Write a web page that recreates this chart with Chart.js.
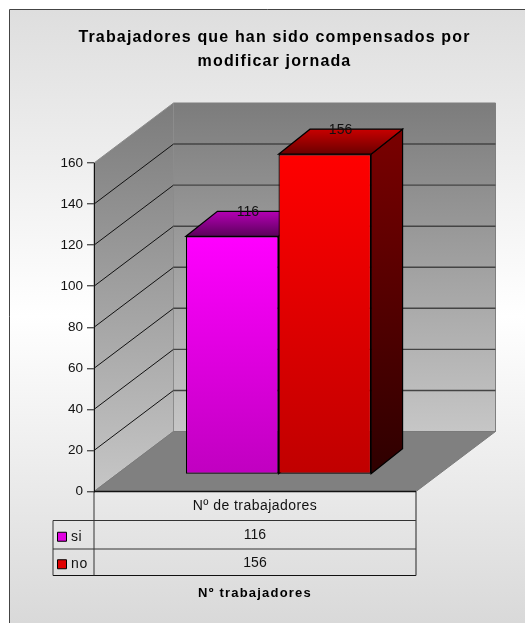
<!DOCTYPE html>
<html>
<head>
<meta charset="utf-8">
<style>html,body{margin:0;padding:0;background:#fff}canvas{display:block}</style>
<script src="https://cdn.jsdelivr.net/npm/chart.js@4"></script>
</head>
<body>
<div style="width:525px;height:623px"><canvas id="c" width="525" height="623"></canvas></div>
<script>
const titleLines = ['Trabajadores que han sido compensados por', 'modificar jornada'];
const axisTitle = 'Nº trabajadores';
const categories = ['Nº de trabajadores'];
const seriesNames = ['si', 'no'];
const siValues = [116];
const noValues = [156];
const yMax = 160;
const yStep = 20;

const FONT = '"Liberation Sans", Arial, sans-serif';
const seriesStyle = [
  { top: '#ff00ff', bottom: '#c000c0', key: '#e000e0', capA: '#b400b4', capB: '#5c005c', sideA: '#7a007a', sideB: '#2e002e' },
  { top: '#ff0000', bottom: '#c00000', key: '#e00000', capA: '#c80000', capB: '#6a0000', sideA: '#7a0000', sideB: '#2e0000' }
];
const WALL = { dx: 79.5, dy: -60 };       // room depth
const BAR_SHIFT = { dx: 23.5, dy: -17 };  // bars stand inside the room
const BAR_DEPTH = { dx: 31.5, dy: -25 };  // depth of each column
const PANEL = { x: 9.5, y: 9.5 };
const TABLE = { left: 53, headerBottom: 520.5, row1: 549, row2: 575.5 };

function vGrad(ctx, y0, y1, a, b) {
  const g = ctx.createLinearGradient(0, y0, 0, y1);
  g.addColorStop(0, a); g.addColorStop(1, b);
  return g;
}
function poly(ctx, pts, fill, stroke, lw) {
  ctx.beginPath();
  pts.forEach((p, i) => i ? ctx.lineTo(p[0], p[1]) : ctx.moveTo(p[0], p[1]));
  ctx.closePath();
  if (fill) { ctx.fillStyle = fill; ctx.fill(); }
  if (stroke) { ctx.strokeStyle = stroke; ctx.lineWidth = lw || 1; ctx.stroke(); }
}
function line(ctx, x0, y0, x1, y1, color, lw) {
  ctx.beginPath(); ctx.moveTo(x0, y0); ctx.lineTo(x1, y1);
  ctx.strokeStyle = color; ctx.lineWidth = lw || 1; ctx.stroke();
}

const room3d = {
  id: 'room3d',
  afterLayout(chart) {
    chart.titleBlock.left = 24;
    chart.titleBlock.right = 525;
    if (!chart.$spaced) {
      chart.$spaced = true;
      const ctx = chart.ctx;
      const t = chart.titleBlock, od = t.draw;
      t.draw = function () { ctx.save(); ctx.letterSpacing = '1.15px'; od.apply(this, arguments); ctx.restore(); };
      const xs = chart.scales.x, ot = xs.drawTitle, ol = xs.drawLabels;
      xs.drawTitle = function () { ctx.save(); ctx.letterSpacing = '1.2px'; ot.apply(this, arguments); ctx.restore(); };
      xs.drawLabels = function () { ctx.save(); ctx.letterSpacing = '0.45px'; ol.apply(this, arguments); ctx.restore(); };
    }
  },
  beforeDraw(chart) {
    const { ctx, chartArea: a, width, height } = chart;
    const ys = chart.scales.y;
    ctx.save();
    // panel
    const bg = ctx.createLinearGradient(0, PANEL.y, 0, height);
    bg.addColorStop(0, '#dedede'); bg.addColorStop(0.5, '#ffffff'); bg.addColorStop(1, '#d9d9d9');
    ctx.fillStyle = bg;
    ctx.fillRect(PANEL.x, PANEL.y, width - PANEL.x, height - PANEL.y);
    line(ctx, PANEL.x, height, PANEL.x, PANEL.y, '#444');
    line(ctx, PANEL.x, PANEL.y, width, PANEL.y, '#444');

    const { dx, dy } = WALL;
    const top = a.top, bot = a.bottom, L = a.left, R = a.right;
    // back wall
    poly(ctx, [[L + dx, top + dy], [R + dx, top + dy], [R + dx, bot + dy], [L + dx, bot + dy]],
      vGrad(ctx, top + dy, bot + dy, '#7c7c7c', '#c6c6c6'), '#7f7f7f', 1);
    // side wall
    poly(ctx, [[L, top], [L + dx, top + dy], [L + dx, bot + dy], [L, bot]],
      vGrad(ctx, top + dy, bot, '#7c7c7c', '#c6c6c6'), '#8c8c8c', 1);
    // grid lines from the value axis
    ys.ticks.forEach(t => {
      if (t.value === 0) return;
      const y = ys.getPixelForValue(t.value);
      if (t.value !== yMax) {
        line(ctx, L, y, L + dx, y + dy, '#111', 1);
        line(ctx, L + dx, y + dy, R + dx, y + dy, '#444', 1.4);
      }
    });
    // floor
    poly(ctx, [[L, bot], [L + dx, bot + dy], [R + dx, bot + dy], [R, bot]], '#808080', '#7a7a7a', 1);
    ctx.restore();
  },
  beforeDatasetsDraw(chart) {
    const { ctx } = chart;
    ctx.save();
    ctx.translate(BAR_SHIFT.dx, BAR_SHIFT.dy);
    const { dx, dy } = BAR_DEPTH;
    chart.data.datasets.forEach((ds, i) => {
      chart.getDatasetMeta(i).data.forEach(b => {
        const l = b.x - b.width / 2, r = b.x + b.width / 2, s = seriesStyle[i];
        poly(ctx, [[r, b.y], [r + dx, b.y + dy], [r + dx, b.base + dy], [r, b.base]],
          vGrad(ctx, b.y + dy, b.base, s.sideA, s.sideB), '#000', 1.2);
        poly(ctx, [[l, b.y], [l + dx, b.y + dy], [r + dx, b.y + dy], [r, b.y]],
          vGrad(ctx, b.y + dy, b.y, s.capA, s.capB), '#000', 1.2);
      });
    });
  },
  afterDatasetsDraw(chart) {
    const { ctx, chartArea: a } = chart;
    // value labels, on the back edge of each column top
    chart.data.datasets.forEach((ds, i) => {
      chart.getDatasetMeta(i).data.forEach((b, j) => {
        ctx.font = '14px ' + FONT;
        ctx.fillStyle = '#111';
        ctx.textAlign = 'center'; ctx.textBaseline = 'middle';
        ctx.fillText(String(ds.data[j]), b.x + BAR_DEPTH.dx / 2, b.y + BAR_DEPTH.dy + 0.5);
      });
    });
    ctx.restore();
    // data table
    ctx.save();
    const T = TABLE, L = a.left, R = a.right, bot = a.bottom;
    const rows = [[T.headerBottom, T.row1], [T.row1, T.row2]];
    line(ctx, L, T.headerBottom, R, T.headerBottom, '#333', 1);
    line(ctx, T.left, T.headerBottom, L, T.headerBottom, '#333', 1);
    line(ctx, T.left, T.row1, R, T.row1, '#333', 1);
    line(ctx, T.left, T.row2, R, T.row2, '#111', 1.2);
    line(ctx, T.left, T.headerBottom, T.left, T.row2, '#333', 1);
    line(ctx, L, bot, L, T.row2, '#333', 1);
    line(ctx, R, bot, R, T.row2, '#444', 1.2);
    line(ctx, L, bot, R, bot, '#111', 1.6);
    ctx.font = '14px ' + FONT;
    ctx.textBaseline = 'middle';
    rows.forEach((r, i) => {
      const cy = (r[0] + r[1]) / 2;
      const ky = cy + 2;
      poly(ctx, [[T.left + 4.5, ky - 4.5], [T.left + 13.5, ky - 4.5], [T.left + 13.5, ky + 4.5], [T.left + 4.5, ky + 4.5]],
        seriesStyle[i].key, '#000', 1);
      ctx.fillStyle = '#111';
      ctx.textAlign = 'left';
      ctx.letterSpacing = '0.6px';
      ctx.fillText(seriesNames[i], T.left + 18, ky);
      ctx.letterSpacing = '0px';
      ctx.textAlign = 'center';
      ctx.fillText(String(chart.data.datasets[i].data[0]), (L + R) / 2, cy + 0.7);
    });
    ctx.restore();
  }
};

function barFill(i) {
  return c => {
    const ys = c.chart.scales.y;
    if (!ys || c.raw === undefined) return seriesStyle[i].top;
    const y0 = ys.getPixelForValue(c.raw), y1 = ys.getPixelForValue(0);
    if (!Number.isFinite(y0) || !Number.isFinite(y1)) return seriesStyle[i].top;
    return vGrad(c.chart.ctx, y0, y1, seriesStyle[i].top, seriesStyle[i].bottom);
  };
}

new Chart(document.getElementById('c'), {
  type: 'bar',
  plugins: [room3d],
  data: {
    labels: categories,
    datasets: [
      { label: seriesNames[0], data: siValues, backgroundColor: barFill(0), borderColor: '#000', borderWidth: 1.2, borderSkipped: false, barPercentage: 1, categoryPercentage: 0.575 },
      { label: seriesNames[1], data: noValues, backgroundColor: barFill(1), borderColor: '#000', borderWidth: 1.2, borderSkipped: false, barPercentage: 1, categoryPercentage: 0.575 }
    ]
  },
  options: {
    responsive: false,
    animation: false,
    layout: { padding: { left: 0, right: 109, top: 0, bottom: 0 } },
    plugins: {
      legend: { display: false },
      tooltip: { enabled: false },
      title: {
        display: true,
        text: titleLines,
        color: '#000',
        font: { family: FONT, size: 16, weight: 'bold', lineHeight: 1.5 },
        padding: { top: 26, bottom: 89 }
      }
    },
    scales: {
      x: {
        afterFit(s) { s.height = 131.5; },
        grid: { display: false, drawTicks: false },
        border: { display: false },
        ticks: { color: '#111', font: { family: FONT, size: 14 }, padding: 6, maxRotation: 0 },
        title: {
          display: true,
          text: axisTitle,
          color: '#000',
          font: { family: FONT, size: 13, weight: 'bold' },
          padding: { top: 4, bottom: 22 }
        }
      },
      y: {
        min: 0,
        max: yMax,
        afterFit(s) { s.width = 94; },
        grid: { drawOnChartArea: false, drawTicks: true, tickLength: 7, color: '#555', lineWidth: 1.4 },
        border: { display: true, color: '#111', width: 1 },
        ticks: { stepSize: yStep, color: '#111', padding: 4, font: { family: FONT, size: 13.5 } }
      }
    }
  }
});
</script>
</body>
</html>
